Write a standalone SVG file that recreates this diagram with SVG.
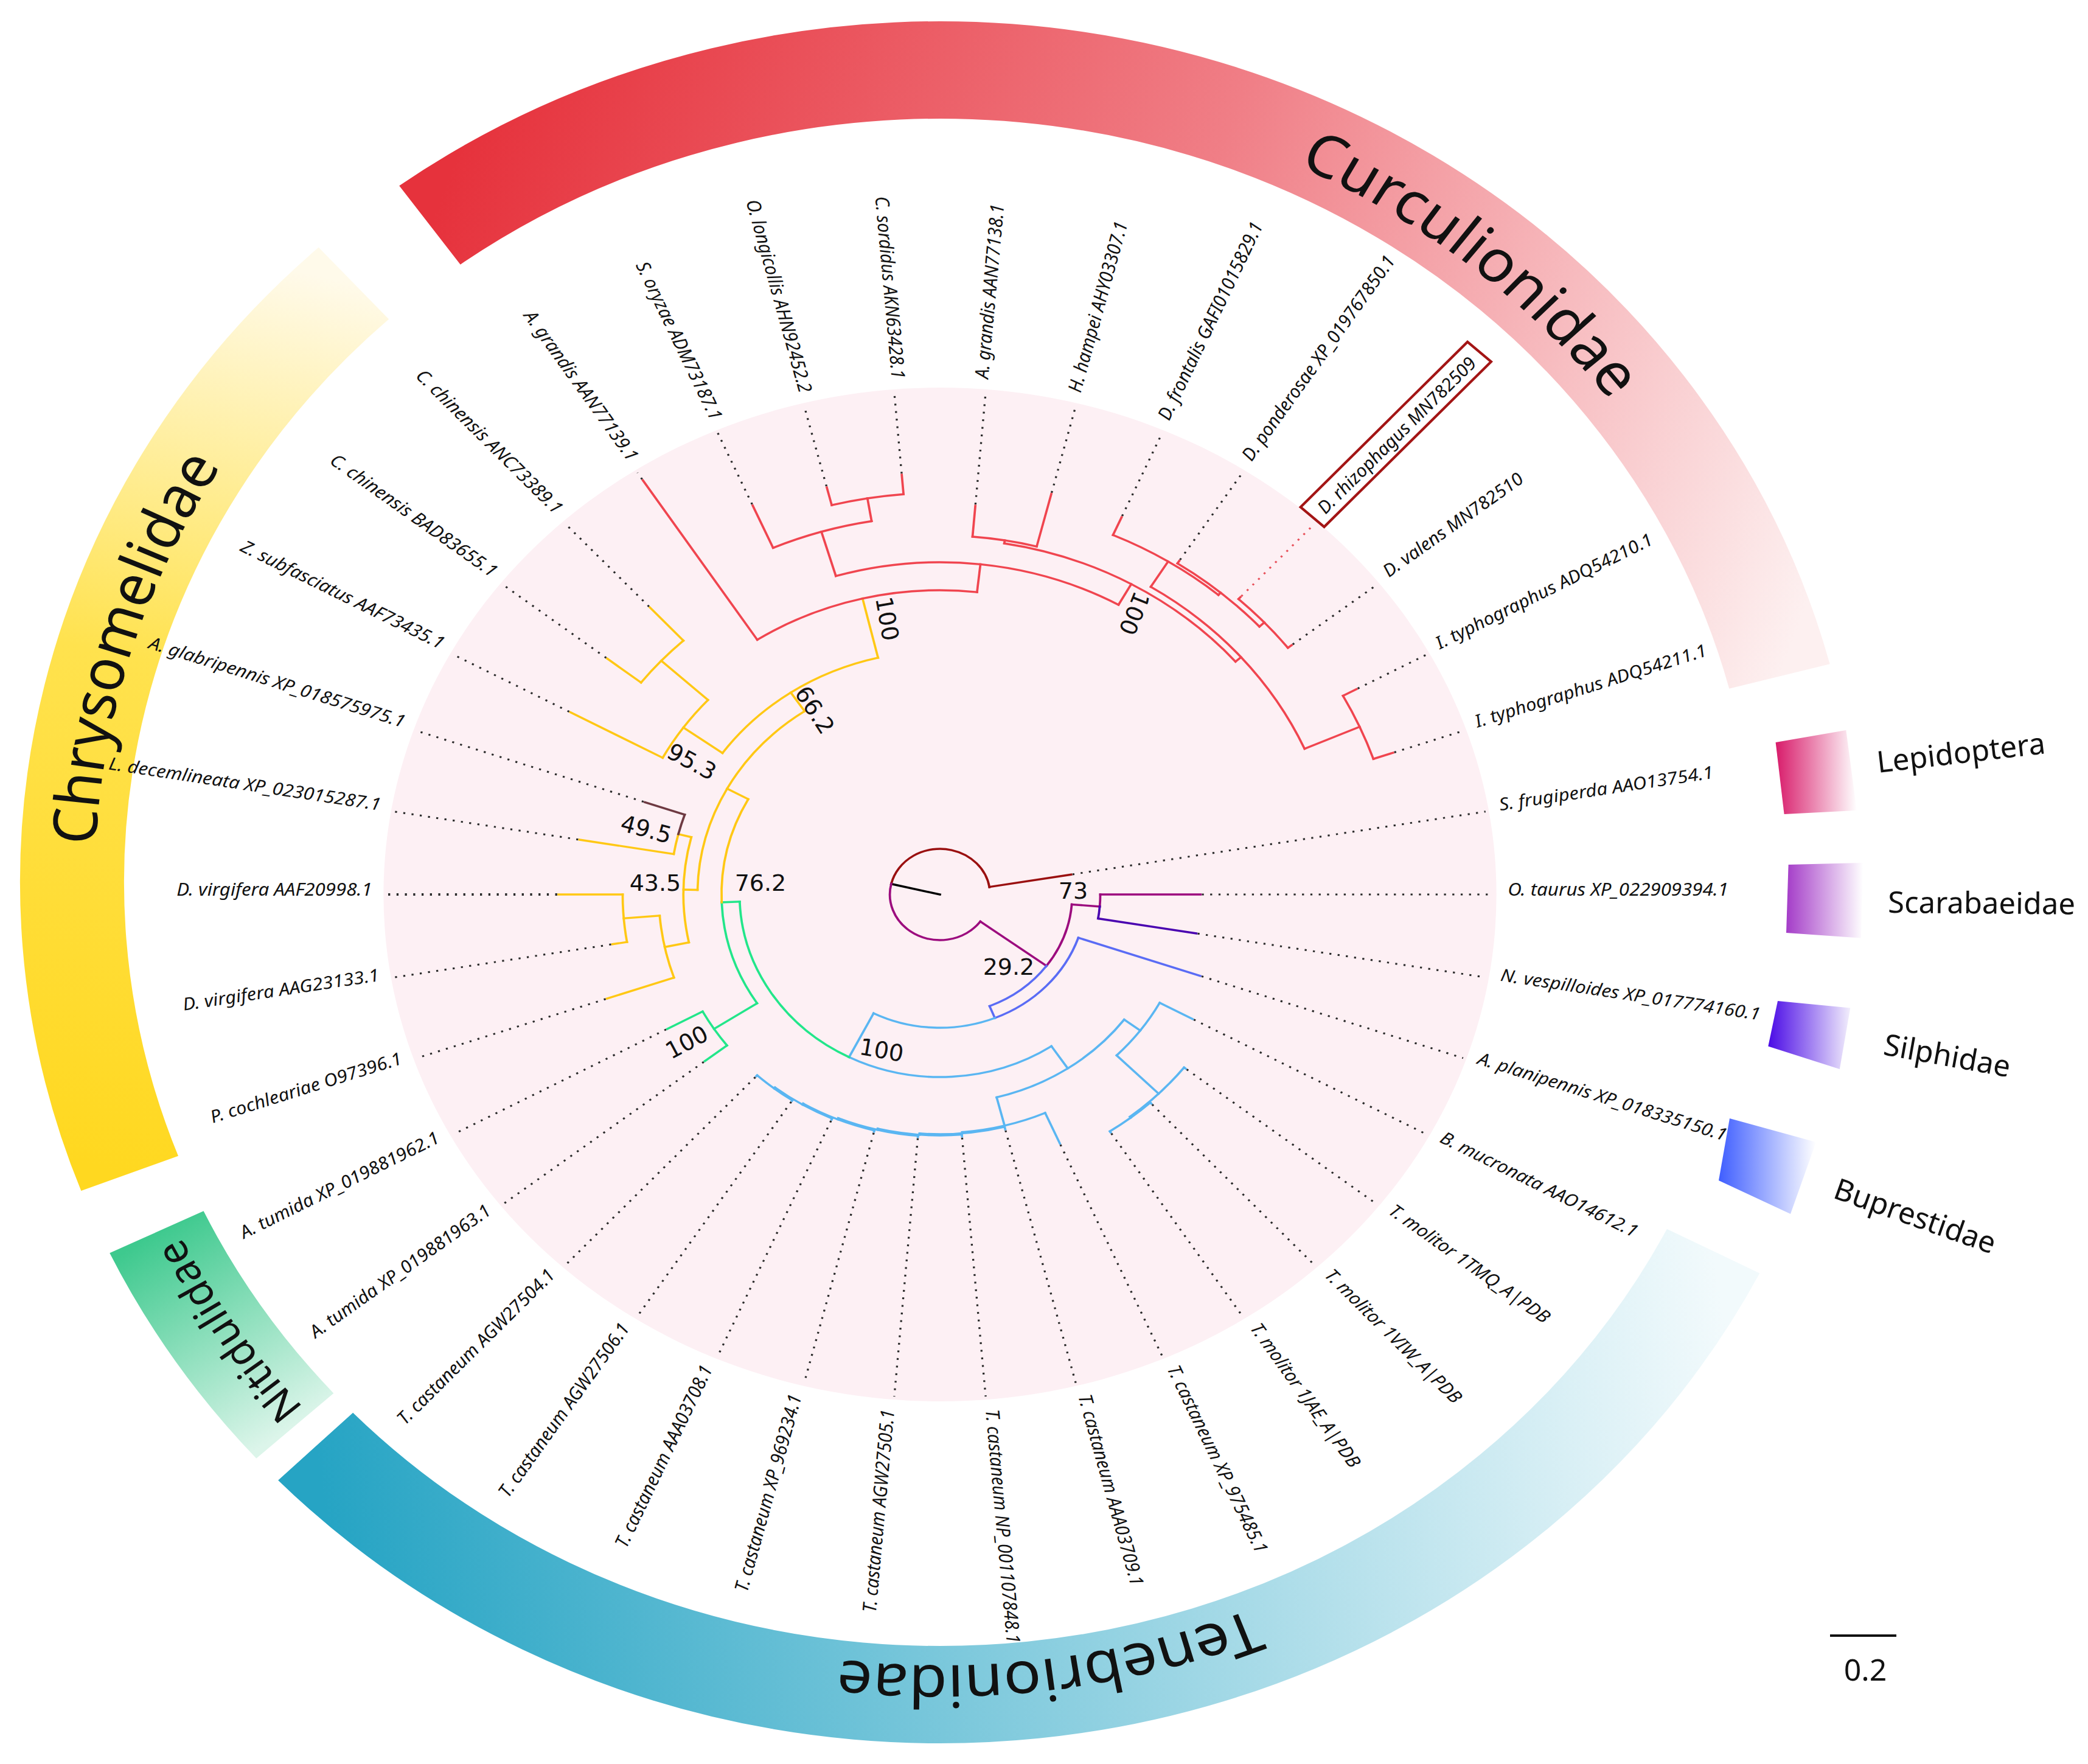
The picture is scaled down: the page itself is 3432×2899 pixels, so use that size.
<svg xmlns="http://www.w3.org/2000/svg" width="3432" height="2899" viewBox="0 0 3432 2899">
<defs>
<style>
.b{fill:none;stroke-width:3.4;stroke-linecap:square}
.lep{stroke:#9a1010}.sca{stroke:#9c0c7e}.sil{stroke:#4a05b0}.bup{stroke:#5a6cf5}.ten{stroke:#5ab6f2}.nit{stroke:#22e68a}.chr{stroke:#ffc814}.cur{stroke:#f0454f}.cer{stroke:#6e3a42}.blk{stroke:#000}
.d{fill:none;stroke:#2a2a2a;stroke-width:3;stroke-dasharray:3 9.5}
.lab{font-family:"Noto Sans","Open Sans",sans-serif;font-style:italic;font-size:28.5px;fill:#111}
.bs{font-family:"DejaVu Sans",sans-serif;font-size:38px;fill:#111;text-anchor:middle;dominant-baseline:central}
.fam{font-family:"Noto Sans","Open Sans",sans-serif;font-size:96px;fill:#111}
.leg{font-family:"Noto Sans","Open Sans",sans-serif;font-size:49px;fill:#111}
.band{fill:none;stroke-width:160}
</style>
<linearGradient id="gCur" gradientUnits="userSpaceOnUse" x1="1335" y1="0" x2="-485" y2="1244"><stop offset="0" stop-color="#e6323c"/><stop offset="0.5" stop-color="#f07e86"/><stop offset="1" stop-color="#fdf0f0"/></linearGradient>
<linearGradient id="gChr" gradientUnits="userSpaceOnUse" x1="1335" y1="0" x2="489" y2="1242"><stop offset="0" stop-color="#ffd820"/><stop offset="0.55" stop-color="#ffe24e"/><stop offset="1" stop-color="#fffaea"/></linearGradient>
<linearGradient id="gNit" gradientUnits="userSpaceOnUse" x1="1335" y1="0" x2="1280" y2="379"><stop offset="0" stop-color="#dcf5ea"/><stop offset="1" stop-color="#3ec98e"/></linearGradient>
<linearGradient id="gTen" gradientUnits="userSpaceOnUse" x1="1335" y1="0" x2="-434.6" y2="1262.2"><stop offset="0" stop-color="#f2fafc"/><stop offset="1" stop-color="#26a4c4"/></linearGradient>
<linearGradient id="lLep" x1="0" y1="0" x2="1" y2="0"><stop offset="0" stop-color="#d81b6a"/><stop offset="1" stop-color="#ffffff"/></linearGradient>
<linearGradient id="lSca" x1="0" y1="0" x2="1" y2="0"><stop offset="0" stop-color="#a43cc8"/><stop offset="1" stop-color="#ffffff"/></linearGradient>
<linearGradient id="lSil" x1="0" y1="0" x2="1" y2="0"><stop offset="0" stop-color="#4a0ae6"/><stop offset="1" stop-color="#f2eefc"/></linearGradient>
<linearGradient id="lBup" x1="0" y1="0" x2="1" y2="0"><stop offset="0" stop-color="#3f5eff"/><stop offset="1" stop-color="#ffffff"/></linearGradient>
<path id="ring1" d="M0,-1287A1287,1287 0 1,1 0,1287A1287,1287 0 1,1 0,-1287"/>
<path id="ring2" d="M0,-1300A1300,1300 0 1,1 0,1300A1300,1300 0 1,1 0,-1300"/>
<path id="ring3" d="M0,-1305A1305,1305 0 1,1 0,1305A1305,1305 0 1,1 0,-1305"/>
</defs>
<rect width="3432" height="2899" fill="#fff"/>

<g id="family-bands" transform="translate(1545 1450) scale(1.0686 1)">
<g id="band-curculionidae"><circle class="band" r="1335" transform="rotate(234)" stroke="url(#gCur)" stroke-dasharray="2593.3 99999"/>
<text class="fam"><textPath href="#ring2" startOffset="880" text-anchor="middle">Curculionidae</textPath></text></g>
<g id="band-chrysomelidae"><circle class="band" r="1335" transform="rotate(159)" stroke="url(#gChr)" stroke-dasharray="1596.1 99999"/>
<text class="fam" style="font-size:94px"><textPath href="#ring2" startOffset="6516" text-anchor="middle">Chrysomelidae</textPath></text></g>
<g id="band-nitidulidae"><circle class="band" r="1335" transform="rotate(138)" stroke="url(#gNit)" stroke-dasharray="384.4 99999"/>
<text class="fam" style="font-size:66px"><textPath href="#ring3" startOffset="5375" text-anchor="middle">Nitidulidae</textPath></text></g>
<g id="band-tenebrionidae"><circle class="band" r="1335" transform="rotate(27)" stroke="url(#gTen)" stroke-dasharray="2539.7 99999"/>
<text class="fam"><textPath href="#ring1" startOffset="3875" text-anchor="middle">Tenebrionidae</textPath></text></g>
</g>

<g id="tree" transform="translate(1545 1470) scale(1.098 1)">
<circle id="background-disc" r="833" fill="#fdf0f4"/>
<g id="connectors">
<g id="leaf-lines">
<line class="d" x1="392" x2="828"/>
<line class="d" x1="391" x2="828" transform="rotate(9.47)"/>
<line class="d" x1="414" x2="828" transform="rotate(18.95)"/>
<line class="d" x1="432" x2="828" transform="rotate(28.42)"/>
<line class="d" x1="468" x2="828" transform="rotate(37.89)"/>
<line class="d" x1="469" x2="828" transform="rotate(47.37)"/>
<line class="d" x1="469" x2="828" transform="rotate(56.84)"/>
<line class="d" x1="449" x2="828" transform="rotate(66.32)"/>
<line class="d" x1="400" x2="828" transform="rotate(75.79)"/>
<line class="d" x1="401" x2="828" transform="rotate(85.26)"/>
<line class="d" x1="402" x2="828" transform="rotate(94.74)"/>
<line class="d" x1="404" x2="828" transform="rotate(104.21)"/>
<line class="d" x1="406" x2="828" transform="rotate(113.68)"/>
<line class="d" x1="407" x2="828" transform="rotate(123.16)"/>
<line class="d" x1="408" x2="828" transform="rotate(132.63)"/>
<line class="d" x1="448" x2="828" transform="rotate(142.11)"/>
<line class="d" x1="466" x2="828" transform="rotate(151.58)"/>
<line class="d" x1="529" x2="828" transform="rotate(161.05)"/>
<line class="d" x1="499" x2="828" transform="rotate(170.53)"/>
<line class="d" x1="573" x2="828" transform="rotate(180)" style="stroke-width:4"/>
<line class="d" x1="549" x2="828" transform="rotate(189.47)"/>
<line class="d" x1="469" x2="828" transform="rotate(198.95)"/>
<line class="d" x1="631" x2="828" transform="rotate(208.42)"/>
<line class="d" x1="633" x2="828" transform="rotate(217.89)"/>
<line class="d" x1="643" x2="828" transform="rotate(227.37)"/>
<line class="d" x1="815" x2="828" transform="rotate(236.84)"/>
<line class="d" x1="700" x2="828" transform="rotate(246.32)"/>
<line class="d" x1="692" x2="828" transform="rotate(255.79)"/>
<line class="d" x1="694" x2="828" transform="rotate(265.26)"/>
<line class="d" x1="643" x2="828" transform="rotate(274.74)"/>
<line class="d" x1="681" x2="828" transform="rotate(284.21)"/>
<line class="d" x1="679" x2="828" transform="rotate(293.68)"/>
<line class="d" x1="657" x2="828" transform="rotate(303.16)"/>
<line class="d" x1="666" x2="828" transform="rotate(312.63)" style="stroke:#e8505a"/>
<line class="d" x1="669" x2="828" transform="rotate(322.11)"/>
<line class="d" x1="711" x2="828" transform="rotate(331.58)"/>
<line class="d" x1="719" x2="828" transform="rotate(341.05)"/>
<line class="d" x1="201" x2="828" transform="rotate(350.53)"/>
</g>
<g id="branches">
<line class="b blk" x1="0" x2="75" transform="rotate(193.4)"/>
<circle class="b lep" r="75" transform="rotate(193.4)" stroke-dasharray="205.7 9999"/>
<circle class="b sca" r="75" transform="rotate(36.35)" stroke-dasharray="205.6 9999"/>
<line class="b lep" x1="75" x2="199" transform="rotate(350.53)"/>
<line class="b sca" x1="75" x2="198" transform="rotate(36.35)"/>
<circle class="b sca" r="198" transform="rotate(4.74)" stroke-dasharray="109.2 9999"/>
<circle class="b bup" r="198" transform="rotate(36.35)" stroke-dasharray="109.2 9999"/>
<line class="b sca" x1="198" x2="240" transform="rotate(4.74)"/>
<circle class="b sca" r="240" stroke-dasharray="19.86 9999"/>
<circle class="b sil" r="240" transform="rotate(4.74)" stroke-dasharray="19.82 9999"/>
<line class="b sca" x1="240" x2="390"/>
<line class="b sil" x1="240" x2="389" transform="rotate(9.47)"/>
<line class="b bup" x1="198" x2="219" transform="rotate(67.96)"/>
<circle class="b bup" r="219" transform="rotate(18.95)" stroke-dasharray="187.3 9999"/>
<circle class="b ten" r="219" transform="rotate(67.96)" stroke-dasharray="187.3 9999"/>
<line class="b bup" x1="219" x2="412" transform="rotate(18.95)"/>
<line class="b ten" x1="219" x2="300" transform="rotate(116.97)"/>
<circle class="b ten" r="300" transform="rotate(56.21)" stroke-dasharray="318.1 9999"/>
<circle class="b nit" r="300" transform="rotate(116.97)" stroke-dasharray="318.1 9999"/>
<!-- Tenebrionidae -->
<line class="b ten" x1="300" x2="344" transform="rotate(56.21)"/>
<circle class="b ten" r="344" transform="rotate(36.71)" stroke-dasharray="234.2 9999"/>
<line class="b ten" x1="344" x2="374" transform="rotate(36.71)"/>
<circle class="b ten" r="374" transform="rotate(28.42)" stroke-dasharray="108.2 9999"/>
<line class="b ten" x1="374" x2="430" transform="rotate(28.42)"/>
<line class="b ten" x1="374" x2="463" transform="rotate(45)"/>
<circle class="b ten" r="463" transform="rotate(37.89)" stroke-dasharray="114.9 9999"/>
<line class="b ten" x1="463" x2="466" transform="rotate(37.89)"/>
<line class="b ten" x1="463" x2="465" transform="rotate(52.11)"/>
<circle class="b ten" r="465" transform="rotate(47.37)" stroke-dasharray="76.9 9999"/>
<line class="b ten" x1="465" x2="467" transform="rotate(47.37)"/>
<line class="b ten" x1="465" x2="467" transform="rotate(56.84)"/>
<line class="b ten" x1="344" x2="392" transform="rotate(75.72)"/>
<circle class="b ten" r="392" transform="rotate(66.32)" stroke-dasharray="128.6 9999"/>
<line class="b ten" x1="392" x2="447" transform="rotate(66.32)"/>
<line class="b ten" x1="392" x2="394" transform="rotate(85.12)"/>
<circle class="b ten" r="394" transform="rotate(75.79)" stroke-dasharray="128.2 9999"/>
<line class="b ten" x1="394" x2="398" transform="rotate(75.79)"/>
<line class="b ten" x1="394" x2="396" transform="rotate(94.44)"/>
<circle class="b ten" r="396" transform="rotate(85.26)" stroke-dasharray="126.9 9999"/>
<line class="b ten" x1="396" x2="399" transform="rotate(85.26)"/>
<line class="b ten" x1="396" x2="398" transform="rotate(103.62)"/>
<circle class="b ten" r="398" transform="rotate(94.74)" stroke-dasharray="123.4 9999"/>
<line class="b ten" x1="398" x2="400" transform="rotate(94.74)"/>
<line class="b ten" x1="398" x2="400" transform="rotate(112.5)"/>
<circle class="b ten" r="400" transform="rotate(104.21)" stroke-dasharray="115.8 9999"/>
<line class="b ten" x1="400" x2="402" transform="rotate(104.21)"/>
<line class="b ten" x1="400" x2="402" transform="rotate(120.79)"/>
<circle class="b ten" r="402" transform="rotate(113.68)" stroke-dasharray="99.7 9999"/>
<line class="b ten" x1="402" x2="404" transform="rotate(113.68)"/>
<line class="b ten" x1="402" x2="404" transform="rotate(127.895)"/>
<circle class="b ten" r="404" transform="rotate(123.16)" stroke-dasharray="66.8 9999"/>
<line class="b ten" x1="404" x2="405" transform="rotate(123.16)"/>
<line class="b ten" x1="404" x2="406" transform="rotate(132.63)"/>
<!-- Nitidulidae -->
<line class="b nit" x1="300" x2="327" transform="rotate(177.73)"/>
<circle class="b nit" r="327" transform="rotate(146.845)" stroke-dasharray="176.3 9999"/>
<line class="b nit" x1="327" x2="404" transform="rotate(146.845)"/>
<circle class="b nit" r="404" transform="rotate(142.11)" stroke-dasharray="66.8 9999"/>
<line class="b nit" x1="404" x2="446" transform="rotate(142.11)"/>
<line class="b nit" x1="404" x2="464" transform="rotate(151.58)"/>
<!-- Chrysomelidae -->
<circle class="b chr" r="327" transform="rotate(177.73)" stroke-dasharray="176.3 9999"/>
<line class="b chr" x1="327" x2="363" transform="rotate(208.62)"/>
<circle class="b chr" r="363" transform="rotate(181.18)" stroke-dasharray="347.8 9999"/>
<line class="b chr" x1="363" x2="384" transform="rotate(181.18)"/>
<circle class="b chr" r="384" transform="rotate(168.16)" stroke-dasharray="174.6 9999"/>
<line class="b chr" x1="384" x2="421" transform="rotate(168.16)"/>
<circle class="b chr" r="421" transform="rotate(161.05)" stroke-dasharray="104.4 9999"/>
<line class="b chr" x1="421" x2="527" transform="rotate(161.05)"/>
<line class="b chr" x1="421" x2="475" transform="rotate(175.26)"/>
<circle class="b chr" r="475" transform="rotate(170.53)" stroke-dasharray="78.5 9999"/>
<line class="b chr" x1="475" x2="497" transform="rotate(170.53)"/>
<line class="b chr" x1="475" x2="571" transform="rotate(180)"/>
<line class="b chr" x1="384" x2="404" transform="rotate(194.21)"/>
<circle class="b chr" r="404" transform="rotate(189.47)" stroke-dasharray="33.4 9999"/>
<line class="b chr" x1="404" x2="547" transform="rotate(189.47)"/>
<circle class="b cer" r="404" transform="rotate(194.21)" stroke-dasharray="33.4 9999"/>
<line class="b cer" x1="404" x2="467" transform="rotate(198.95)"/>
<line class="b chr" x1="363" x2="400" transform="rotate(236.07)"/>
<circle class="b chr" r="400" transform="rotate(215.53)" stroke-dasharray="286.7 9999"/>
<line class="b chr" x1="400" x2="472" transform="rotate(215.53)"/>
<circle class="b chr" r="472" transform="rotate(208.42)" stroke-dasharray="117.1 9999"/>
<line class="b chr" x1="472" x2="629" transform="rotate(208.42)"/>
<line class="b chr" x1="472" x2="567" transform="rotate(222.63)"/>
<circle class="b chr" r="567" transform="rotate(217.89)" stroke-dasharray="93.8 9999"/>
<line class="b chr" x1="567" x2="631" transform="rotate(217.89)"/>
<line class="b chr" x1="567" x2="641" transform="rotate(227.37)"/>
<line class="b chr" x1="400" x2="500" transform="rotate(256.6)"/>
<!-- Curculionidae -->
<circle class="b cur" r="500" transform="rotate(236.84)" stroke-dasharray="345 9999"/>
<line class="b cur" x1="500" x2="813" transform="rotate(236.84)"/>
<line class="b cur" x1="500" x2="546" transform="rotate(276.37)"/>
<circle class="b cur" r="546" transform="rotate(253.42)" stroke-dasharray="437.3 9999"/>
<line class="b cur" x1="546" x2="622" transform="rotate(253.42)"/>
<circle class="b cur" r="622" transform="rotate(246.32)" stroke-dasharray="154.3 9999"/>
<line class="b cur" x1="622" x2="698" transform="rotate(246.32)"/>
<line class="b cur" x1="622" x2="660" transform="rotate(260.53)"/>
<circle class="b cur" r="660" transform="rotate(255.79)" stroke-dasharray="109.1 9999"/>
<line class="b cur" x1="660" x2="690" transform="rotate(255.79)"/>
<line class="b cur" x1="660" x2="692" transform="rotate(265.26)"/>
<line class="b cur" x1="546" x2="585" transform="rotate(299.31)"/>
<circle class="b cur" r="585" transform="rotate(279.47)" stroke-dasharray="405 9999"/>
<line class="b cur" x1="585" x2="590" transform="rotate(279.47)"/>
<circle class="b cur" r="590" transform="rotate(274.74)" stroke-dasharray="97.5 9999"/>
<line class="b cur" x1="590" x2="641" transform="rotate(274.74)"/>
<line class="b cur" x1="590" x2="679" transform="rotate(284.21)"/>
<line class="b cur" x1="585" x2="596" transform="rotate(319.14)"/>
<circle class="b cur" r="596" transform="rotate(301.97)" stroke-dasharray="357.3 9999"/>
<line class="b cur" x1="596" x2="645" transform="rotate(301.97)"/>
<circle class="b cur" r="645" transform="rotate(293.68)" stroke-dasharray="186.6 9999"/>
<line class="b cur" x1="645" x2="677" transform="rotate(293.68)"/>
<line class="b cur" x1="645" x2="650" transform="rotate(310.26)"/>
<circle class="b cur" r="650" transform="rotate(303.16)" stroke-dasharray="161.2 9999"/>
<line class="b cur" x1="650" x2="655" transform="rotate(303.16)"/>
<line class="b cur" x1="650" x2="660" transform="rotate(317.37)"/>
<circle class="b cur" r="660" transform="rotate(312.63)" stroke-dasharray="109.2 9999"/>
<line class="b cur" x1="660" x2="664" transform="rotate(312.63)"/>
<line class="b cur" x1="660" x2="667" transform="rotate(322.11)"/>
<line class="b cur" x1="596" x2="686" transform="rotate(336.32)"/>
<circle class="b cur" r="686" transform="rotate(331.58)" stroke-dasharray="113.4 9999"/>
<line class="b cur" x1="686" x2="709" transform="rotate(331.58)"/>
<line class="b cur" x1="686" x2="717" transform="rotate(341.05)"/>
</g>
</g>

<g id="leaf-labels">
<g id="leaf-00"><text class="lab" x="850" y="2">O. taurus XP_022909394.1</text></g>
<g id="leaf-01"><text class="lab" x="850" y="2" transform="rotate(9.47)">N. vespilloides XP_017774160.1</text></g>
<g id="leaf-02"><text class="lab" x="850" y="2" transform="rotate(18.95)">A. planipennis XP_018335150.1</text></g>
<g id="leaf-03"><text class="lab" x="850" y="2" transform="rotate(28.42)">B. mucronata AAO14612.1</text></g>
<g id="leaf-04"><text class="lab" x="850" y="2" transform="rotate(37.89)">T. molitor 1TMQ_A|PDB</text></g>
<g id="leaf-05"><text class="lab" x="850" y="2" transform="rotate(47.37)">T. molitor 1VIW_A|PDB</text></g>
<g id="leaf-06"><text class="lab" x="850" y="2" transform="rotate(56.84)">T. molitor 1JAE_A|PDB</text></g>
<g id="leaf-07"><text class="lab" x="850" y="2" transform="rotate(66.32)">T. castaneum XP_975485.1</text></g>
<g id="leaf-08"><text class="lab" x="850" y="2" transform="rotate(75.79)">T. castaneum AAA03709.1</text></g>
<g id="leaf-09"><text class="lab" x="850" y="2" transform="rotate(85.26)">T. castaneum NP_001107848.1</text></g>
<g id="leaf-10"><text class="lab" x="-850" y="2" text-anchor="end" transform="rotate(-85.26)">T. castaneum AGW27505.1</text></g>
<g id="leaf-11"><text class="lab" x="-850" y="2" text-anchor="end" transform="rotate(-75.79)">T. castaneum XP_969234.1</text></g>
<g id="leaf-12"><text class="lab" x="-850" y="2" text-anchor="end" transform="rotate(-66.32)">T. castaneum AAA03708.1</text></g>
<g id="leaf-13"><text class="lab" x="-850" y="2" text-anchor="end" transform="rotate(-56.84)">T. castaneum AGW27506.1</text></g>
<g id="leaf-14"><text class="lab" x="-850" y="2" text-anchor="end" transform="rotate(-47.37)">T. castaneum AGW27504.1</text></g>
<g id="leaf-15"><text class="lab" x="-850" y="2" text-anchor="end" transform="rotate(-37.89)">A. tumida XP_019881963.1</text></g>
<g id="leaf-16"><text class="lab" x="-850" y="2" text-anchor="end" transform="rotate(-28.42)">A. tumida XP_019881962.1</text></g>
<g id="leaf-17"><text class="lab" x="-850" y="2" text-anchor="end" transform="rotate(-18.95)">P. cochleariae O97396.1</text></g>
<g id="leaf-18"><text class="lab" x="-850" y="2" text-anchor="end" transform="rotate(-9.47)">D. virgifera AAG23133.1</text></g>
<g id="leaf-19"><text class="lab" x="-850" y="2" text-anchor="end">D. virgifera AAF20998.1</text></g>
<g id="leaf-20"><text class="lab" x="-850" y="2" text-anchor="end" transform="rotate(9.47)">L. decemlineata XP_023015287.1</text></g>
<g id="leaf-21"><text class="lab" x="-850" y="2" text-anchor="end" transform="rotate(18.95)">A. glabripennis XP_018575975.1</text></g>
<g id="leaf-22"><text class="lab" x="-850" y="2" text-anchor="end" transform="rotate(28.42)">Z. subfasciatus AAF73435.1</text></g>
<g id="leaf-23"><text class="lab" x="-850" y="2" text-anchor="end" transform="rotate(37.89)">C. chinensis BAD83655.1</text></g>
<g id="leaf-24"><text class="lab" x="-850" y="2" text-anchor="end" transform="rotate(47.37)">C. chinensis ANC73389.1</text></g>
<g id="leaf-25"><text class="lab" x="-850" y="2" text-anchor="end" transform="rotate(56.84)">A. grandis AAN77139.1</text></g>
<g id="leaf-26"><text class="lab" x="-850" y="2" text-anchor="end" transform="rotate(66.32)">S. oryzae ADM73187.1</text></g>
<g id="leaf-27"><text class="lab" x="-850" y="2" text-anchor="end" transform="rotate(75.79)">O. longicollis AHN92452.2</text></g>
<g id="leaf-28"><text class="lab" x="-850" y="2" text-anchor="end" transform="rotate(85.26)">C. sordidus AKN63428.1</text></g>
<g id="leaf-29"><text class="lab" x="850" y="2" transform="rotate(-85.26)">A. grandis AAN77138.1</text></g>
<g id="leaf-30"><text class="lab" x="850" y="2" transform="rotate(-75.79)">H. hampei AHY03307.1</text></g>
<g id="leaf-31"><text class="lab" x="850" y="2" transform="rotate(-66.32)">D. frontalis GAFI01015829.1</text></g>
<g id="leaf-32"><text class="lab" x="850" y="2" transform="rotate(-56.84)">D. ponderosae XP_019767850.1</text></g>
<g id="leaf-33" transform="rotate(-47.37)"><rect x="834" y="-34" width="369" height="48" fill="none" stroke="#a31515" stroke-width="4"/><text class="lab" x="850" y="2">D. rhizophagus MN782509</text></g>
<g id="leaf-34"><text class="lab" x="850" y="2" transform="rotate(-37.89)">D. valens MN782510</text></g>
<g id="leaf-35"><text class="lab" x="850" y="2" transform="rotate(-28.42)">I. typhographus ADQ54210.1</text></g>
<g id="leaf-36"><text class="lab" x="850" y="2" transform="rotate(-18.95)">I. typhographus ADQ54211.1</text></g>
<g id="leaf-37"><text class="lab" x="850" y="2" transform="rotate(-9.47)">S. frugiperda AAO13754.1</text></g>
</g>
</g>

<g id="bootstrap-values">
<text class="bs" x="1764" y="1464">73</text>
<text class="bs" x="1658" y="1589">29.2</text>
<text class="bs" transform="translate(1449 1726) rotate(10)">100</text>
<text class="bs" transform="translate(1129 1713) rotate(-28)">100</text>
<text class="bs" x="1250" y="1451">76.2</text>
<text class="bs" x="1077" y="1451">43.5</text>
<text class="bs" transform="translate(1062 1363) rotate(15)">49.5</text>
<text class="bs" transform="translate(1137 1252) rotate(28)">95.3</text>
<text class="bs" transform="translate(1339 1167) rotate(57)">66.2</text>
<text class="bs" transform="translate(1458 1017) rotate(80)">100</text>
<text class="bs" transform="translate(1864 1008) rotate(112)">100</text>
</g>

<g id="legend">
<g id="legend-lepidoptera"><polygon points="2918.6,1220 3034.3,1200 3051.9,1332 2932.6,1338" fill="url(#lLep)"/><text class="leg" transform="translate(3087 1270) rotate(-6.6)">Lepidoptera</text></g>
<g id="legend-scarabaeidae"><polygon points="2939.6,1421 3062.4,1418 3058.9,1541.6 2936,1533" fill="url(#lSca)"/><text class="leg" transform="translate(3103 1500) rotate(0.5)">Scarabaeidae</text></g>
<g id="legend-silphidae"><polygon points="2922,1645 3041.3,1656.5 3023.8,1757 2906.3,1719.6" fill="url(#lSil)"/><text class="leg" transform="translate(3094 1733) rotate(10.2)">Silphidae</text></g>
<g id="legend-buprestidae"><polygon points="2843,1838 2985,1877 2943,1995 2825,1940" fill="url(#lBup)"/><text class="leg" transform="translate(3011 1968) rotate(19.5)">Buprestidae</text></g>
</g>

<g id="scale-bar">
<line x1="3008" y1="2688" x2="3117" y2="2688" stroke="#111" stroke-width="4"/>
<text x="3066" y="2762" text-anchor="middle" style="font-family:'Noto Sans','Open Sans',sans-serif;font-size:50px;fill:#111">0.2</text>
</g>
</svg>
